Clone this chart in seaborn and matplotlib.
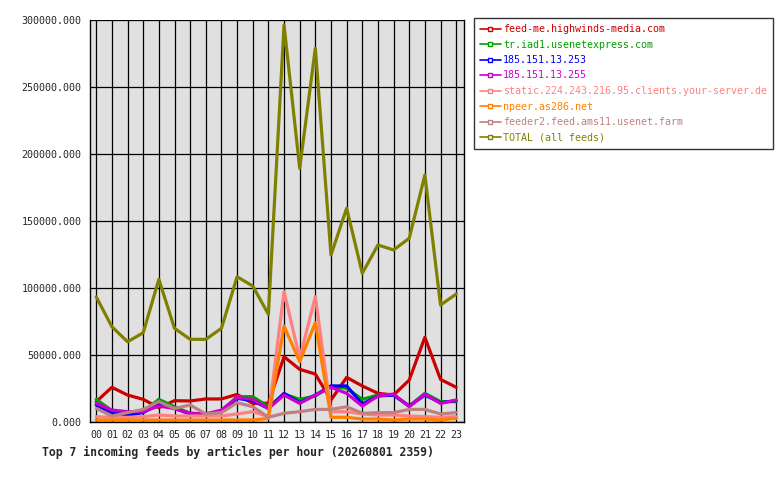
import numpy as np
import pandas as pd
import seaborn as sns
import matplotlib.pyplot as plt
from matplotlib.lines import Line2D

hours = ["%02d" % h for h in range(24)]

feeds = [
    "feed-me.highwinds-media.com",
    "tr.iad1.usenetexpress.com",
    "185.151.13.253",
    "185.151.13.255",
    "static.224.243.216.95.clients.your-server.de",
    "npeer.as286.net",
    "feeder2.feed.ams11.usenet.farm",
    "TOTAL (all feeds)",
]

highwinds = [15200, 25900, 20100, 16900, 10700, 15900, 15700, 17200, 17200, 20600, 13900, 14000,
             48700, 39300, 35800, 16400, 33300, 26900, 21400, 20100, 31300, 63200, 31800, 25900]
usenetexpress = [16900, 8400, 6500, 7700, 16900, 11400, 6500, 6000, 7700, 18900, 18900, 11400,
                 20900, 16900, 19400, 26900, 25100, 16900, 20100, 20100, 11900, 21400, 15200, 15200]
ip_253 = [12700, 7000, 5200, 7000, 13400, 10100, 6000, 5200, 7700, 17700, 15900, 10100,
          21400, 14400, 20100, 26900, 26900, 13400, 19400, 20100, 11900, 20100, 14400, 15900]
ip_255 = [13900, 8900, 7700, 7700, 11900, 10100, 6500, 6000, 8900, 18400, 16900, 10100,
          20100, 13900, 20100, 25900, 21400, 11900, 19400, 20900, 11400, 20900, 13900, 16400]
your_server = [4000, 3500, 3500, 4000, 5200, 4500, 4500, 4500, 4500, 6000, 7700, 4000,
               97300, 47500, 93500, 7700, 7700, 6000, 5200, 5200, 4500, 4000, 3500, 4000]
as286 = [1500, 1500, 1500, 1500, 1500, 1500, 1500, 1500, 1500, 1500, 1500, 2700,
         71600, 45000, 74100, 3500, 3500, 2200, 2200, 1500, 2200, 2200, 1500, 2700]
ams11 = [10100, 4500, 7000, 9400, 15200, 10100, 12700, 6000, 7000, 14400, 11400, 3500,
         6500, 7700, 9400, 9400, 11400, 6500, 7000, 7000, 9400, 9400, 6000, 7000]
total = [93300, 71100, 59900, 66600, 106500, 69900, 61700, 61700, 69900, 108400, 101500, 80400,
         296300, 189300, 278900, 124600, 159500, 111000, 132100, 128400, 137100, 184300, 87300, 95500]

colors = ["#cc0000", "#00a000", "#0000ff", "#cc00cc", "#ff8080", "#ff8000", "#c08080", "#808000"]

series = [highwinds, usenetexpress, ip_253, ip_255, your_server, as286, ams11, total]
df = pd.concat([pd.DataFrame({"hour": np.arange(24), "articles": v, "feed": f})
                for f, v in zip(feeds, series)], ignore_index=True)

sns.set_style("white")
plt.rcParams["font.family"] = ["DejaVu Sans Mono"]

fig = plt.figure(figsize=(7.8, 4.8), dpi=100)
ax = fig.add_axes([90 / 780, 58 / 480, 374 / 780, 402 / 480])
ax.set_facecolor("#e0e0e0")

sns.lineplot(data=df, x="hour", y="articles", hue="feed", hue_order=feeds,
             palette=dict(zip(feeds, colors)), linewidth=2.3, legend=False, ax=ax)

ax.set_xlim(-0.4, 23.5)
ax.set_ylim(0, 300000)
ax.set_xticks(range(24))
ax.set_xticklabels(hours)
ax.set_yticks(range(0, 300001, 50000))
ax.set_yticklabels(["%d.000" % v for v in range(0, 300001, 50000)])
ax.grid(True, color="black", linewidth=0.9)
ax.set_axisbelow(True)
ax.spines["top"].set_visible(False)
for s in ["left", "bottom", "right"]:
    ax.spines[s].set_color("black")
    ax.spines[s].set_linewidth(1.0)
ax.tick_params(axis="both", direction="out", length=4, width=0.9, color="black",
               labelsize=7.2, pad=2)
ax.set_xlabel("")
ax.set_ylabel("")

handles = [Line2D([0], [0], color=c, linewidth=1.2, marker="s", markersize=2.5,
                  markerfacecolor="white", markeredgecolor=c) for c in colors]
leg = fig.legend(handles, feeds, loc="upper left", bbox_to_anchor=(474 / 780, 1 - 18 / 480),
                 frameon=True, fancybox=False, edgecolor="black", fontsize=7.2,
                 handlelength=2.1, handletextpad=0.2, labelspacing=0.55, borderpad=0.6,
                 borderaxespad=0)
leg.get_frame().set_linewidth(1.0)
for t, c in zip(leg.get_texts(), colors):
    t.set_color(c)

fig.text(42 / 780, 1 - 452 / 480, "Top 7 incoming feeds by articles per hour (20260801 2359)",
         fontsize=8.3, fontweight="bold", va="center", ha="left")

fig.savefig("out.png", dpi=100, facecolor="white")
